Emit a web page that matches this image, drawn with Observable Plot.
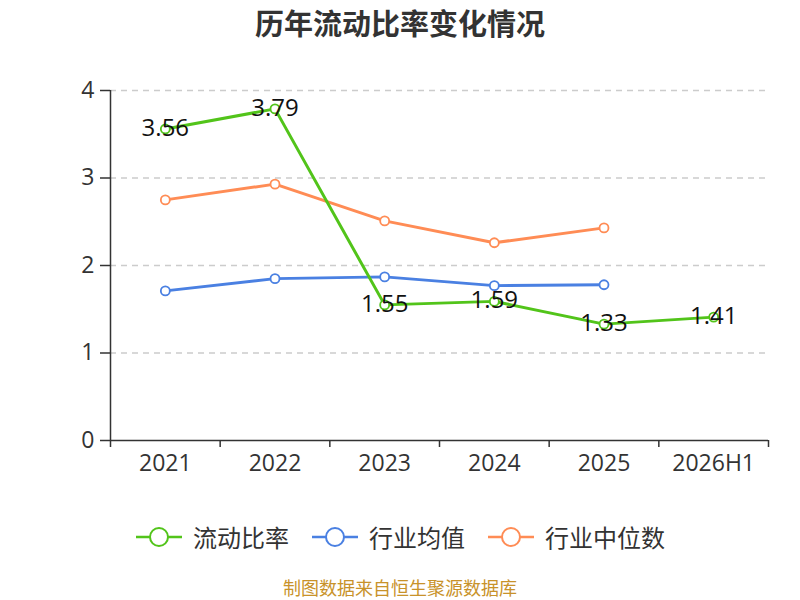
<!DOCTYPE html>
<html><head><meta charset="utf-8">
<script src="https://cdn.jsdelivr.net/npm/d3@7"></script>
<script src="https://cdn.jsdelivr.net/npm/@observablehq/plot@0.6"></script>
<style>
body{margin:0;background:#fff;font-family:"Open Sans","Noto Sans CJK SC",sans-serif;}
#wrap{width:800px;height:600px;position:relative;}
#title{position:absolute;top:2px;left:0;width:800px;text-align:center;font-size:29px;font-weight:bold;color:#333;font-family:"Noto Sans CJK SC",sans-serif;line-height:40px;}
#chart{position:absolute;top:50px;left:0;}
#legend{position:absolute;top:519px;left:0;width:800px;display:flex;justify-content:center;gap:22px;font-size:24px;color:#333;font-family:"Noto Sans CJK SC",sans-serif;line-height:36px;}
.item{display:flex;align-items:center;gap:10px;}
#caption{position:absolute;top:576px;left:0;width:800px;text-align:center;font-size:18px;line-height:22px;color:#c8922a;font-family:"Noto Sans CJK SC",sans-serif;}
</style></head>
<body><div id="wrap"><div id="title">历年流动比率变化情况</div><div id="chart"></div><div id="legend"></div><div id="caption">制图数据来自恒生聚源数据库</div></div>
<script>
const categories = ["2021","2022","2023","2024","2025","2026H1"];
const currentRatio = [3.56,3.79,1.55,1.59,1.33,1.41];
const industryMean = [1.71,1.85,1.87,1.77,1.78];
const industryMedian = [2.75,2.93,2.51,2.26,2.43];
const seriesNames = ["流动比率","行业均值","行业中位数"];
const colors = ["#52c41a","#4a80e2","#ff8c55"];
const yTicks = [0,1,2,3,4];

const mk = (vals, s) => vals.map((v,i)=>({i, v, s}));
const dCur = mk(currentRatio, seriesNames[0]);
const dMean = mk(industryMean, seriesNames[1]);
const dMed = mk(industryMedian, seriesNames[2]);
const bounds = d3.range(categories.length+1).map(k=>k-0.5);

const plot = Plot.plot({
  width: 800, height: 440,
  marginLeft: 110, marginRight: 32, marginTop: 40, marginBottom: 50,
  style: {fontFamily: '"Open Sans","Noto Sans CJK SC",sans-serif', color:"#333", fontSize:"20px"},
  x: {type:"linear", domain:[-0.5, categories.length-0.5]},
  y: {domain:[0,4]},
  marks: [
    Plot.gridY(yTicks.slice(1), {stroke:"#ccc", strokeOpacity:1, strokeDasharray:"6,5", strokeWidth:1.5}),
    Plot.axisY(yTicks, {tickSize:10, tickPadding:6, fontSize:23, label:null, tickFormat:d=>d, stroke:"#333", strokeWidth:1.5}),
    Plot.ruleX([-0.5], {stroke:"#333", strokeWidth:1.5}),
    Plot.ruleY([0], {stroke:"#333", strokeWidth:1.5}),
    Plot.axisX(bounds, {tickSize:7, tickFormat:()=>"", label:null, stroke:"#333", strokeWidth:1.5}),
    Plot.axisX(d3.range(categories.length), {tickSize:0, tickPadding:14, fontSize:23, label:null, tickFormat:i=>categories[i]}),
    Plot.line(dMed, {x:"i", y:"v", stroke:colors[2], strokeWidth:3}),
    Plot.line(dMean, {x:"i", y:"v", stroke:colors[1], strokeWidth:3}),
    Plot.line(dCur, {x:"i", y:"v", stroke:colors[0], strokeWidth:3}),
    Plot.dot(dMed, {x:"i", y:"v", r:4.5, fill:"#fff", stroke:colors[2], strokeWidth:1.8}),
    Plot.dot(dMean, {x:"i", y:"v", r:4.5, fill:"#fff", stroke:colors[1], strokeWidth:1.8}),
    Plot.dot(dCur, {x:"i", y:"v", r:4.5, fill:"#fff", stroke:colors[0], strokeWidth:1.8}),
    Plot.text(dCur, {x:"i", y:"v", text:d=>d.v.toFixed(2), fontSize:24, fill:"#111", textAnchor:"middle", lineAnchor:"middle", dy:-1})
  ]
});
document.getElementById("chart").appendChild(plot);

const lg = document.getElementById("legend");
seriesNames.forEach((n,k)=>{
  const it = document.createElement("div"); it.className="item";
  it.innerHTML = `<svg width="48" height="26"><line x1="1" x2="47" y1="13" y2="13" stroke="${colors[k]}" stroke-width="2.5"/><circle cx="24" cy="13" r="9" fill="#fff" stroke="${colors[k]}" stroke-width="2"/></svg><span>${n}</span>`;
  lg.appendChild(it);
});
</script></body></html>
